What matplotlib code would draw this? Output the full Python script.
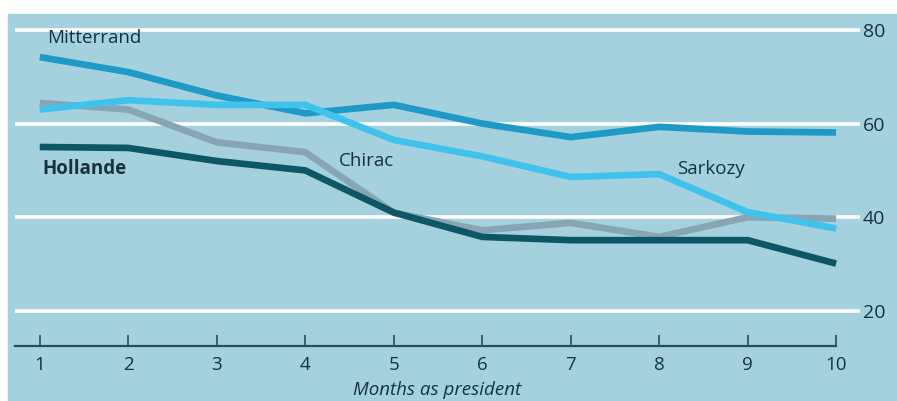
import matplotlib.pyplot as plt
from matplotlib.patches import Rectangle

months = [1, 2, 3, 4, 5, 6, 7, 8, 9, 10]
mitterrand = [74.2, 71, 66, 62.2, 64, 60, 57.1, 59.3, 58.3, 58.1]
chirac = [64.4, 63, 56, 53.9, 41, 37.2, 38.8, 35.8, 40, 39.7]
sarkozy = [63, 65, 64, 64, 56.5, 53, 48.6, 49.2, 41.1, 37.6]
hollande = [55, 54.8, 52, 50, 41, 35.8, 35.1, 35.1, 35.1, 30.1]
y_ticks = [20, 40, 60, 80]

BG = "#a5d0de"
TEXT = "#16323f"

plt.rcParams["font.family"] = ["Open Sans", "DejaVu Sans"]

fig = plt.figure(figsize=(8.97, 4.01), dpi=100, facecolor="white")
fig.patches.append(Rectangle((8 / 897, 0), 1, (401 - 14) / 401,
                             transform=fig.transFigure, color=BG, zorder=-10))

ax = fig.add_axes([15 / 897, 55 / 401, 845 / 897, 332 / 401])
ax.set_facecolor("none")
ax.set_xlim(0.72, 10.27)
ax.set_ylim(12.5, 83.4)

for v in y_ticks:
    ax.axhline(v, color="white", lw=2.6, zorder=1)

kw = dict(lw=4.8, solid_capstyle="butt", solid_joinstyle="round", zorder=3)
ax.plot(months, mitterrand, color="#1d9ac6", **kw)
ax.plot(months, chirac, color="#87a5b3", **kw)
ax.plot(months, sarkozy, color="#3fc2ec", **kw)
ax.plot(months, hollande, color="#0d5666", **kw)

for s in ["top", "left", "right"]:
    ax.spines[s].set_visible(False)
ax.spines["bottom"].set_bounds(0.72, 10)
ax.spines["bottom"].set_color("#2a4b58")
ax.spines["bottom"].set_linewidth(1.6)

ax.set_xticks(months)
ax.tick_params(axis="x", direction="in", length=8, width=1.2, color="#2a4b58",
               labelsize=13.5, labelcolor=TEXT, pad=7)
ax.yaxis.tick_right()
ax.set_yticks(y_ticks)
ax.tick_params(axis="y", length=0, labelsize=14, labelcolor=TEXT, pad=2)
ax.set_xlabel("Months as president", fontsize=13.5, style="italic", color=TEXT, labelpad=5)

# series names
ax.text(1.08, 78.2, "Mitterrand", fontsize=13.5, color=TEXT, va="center")
ax.text(1.03, 50.4, "Hollande", fontsize=13.5, fontweight="bold", color=TEXT, va="center")
ax.text(4.38, 52.1, "Chirac", fontsize=13.5, color=TEXT, va="center")
ax.text(8.2, 50.4, "Sarkozy", fontsize=13.5, color=TEXT, va="center")

fig.savefig("out.png", dpi=100, facecolor="white")
